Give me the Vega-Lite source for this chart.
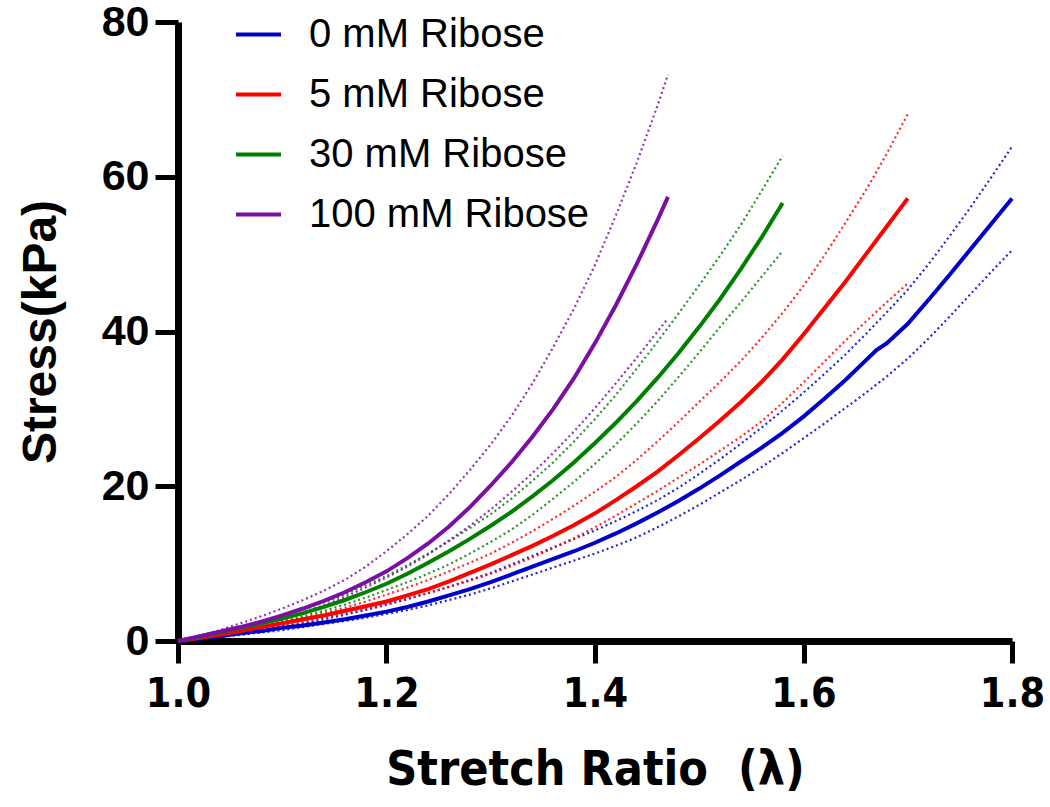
{
"$schema": "https://vega.github.io/schema/vega-lite/v6.json",
"width": 834, "height": 619,
"autosize": {"type": "none"},
"padding": {"left": 178, "top": 22, "right": 38, "bottom": 166},
"background": "white",
"config": {"view": {"stroke": null}, "axis": {"grid": false, "domainColor": "black", "tickColor": "black", "labelColor": "black", "titleColor": "black", "labelFlush": false, "labelOverlap": false}},
"datasets": {"d": [
{"g":"0","k":"m","x":1.00,"y":0},{"g":"0","k":"m","x":1.02,"y":0.3},{"g":"0","k":"m","x":1.04,"y":0.6},{"g":"0","k":"m","x":1.06,"y":1.0},{"g":"0","k":"m","x":1.08,"y":1.3},{"g":"0","k":"m","x":1.10,"y":1.7},{"g":"0","k":"m","x":1.12,"y":2.0},{"g":"0","k":"m","x":1.14,"y":2.4},{"g":"0","k":"m","x":1.16,"y":2.8},{"g":"0","k":"m","x":1.18,"y":3.3},{"g":"0","k":"m","x":1.20,"y":3.8},{"g":"0","k":"m","x":1.22,"y":4.4},{"g":"0","k":"m","x":1.24,"y":5.1},{"g":"0","k":"m","x":1.26,"y":5.9},{"g":"0","k":"m","x":1.28,"y":6.7},{"g":"0","k":"m","x":1.30,"y":7.6},{"g":"0","k":"m","x":1.32,"y":8.6},{"g":"0","k":"m","x":1.34,"y":9.6},{"g":"0","k":"m","x":1.36,"y":10.6},{"g":"0","k":"m","x":1.38,"y":11.6},{"g":"0","k":"m","x":1.40,"y":12.7},{"g":"0","k":"m","x":1.42,"y":13.9},{"g":"0","k":"m","x":1.44,"y":15.2},{"g":"0","k":"m","x":1.46,"y":16.6},{"g":"0","k":"m","x":1.48,"y":18.1},{"g":"0","k":"m","x":1.50,"y":19.7},{"g":"0","k":"m","x":1.52,"y":21.4},{"g":"0","k":"m","x":1.54,"y":23.2},{"g":"0","k":"m","x":1.56,"y":25.0},{"g":"0","k":"m","x":1.58,"y":26.9},{"g":"0","k":"m","x":1.60,"y":29.0},{"g":"0","k":"m","x":1.62,"y":31.3},{"g":"0","k":"m","x":1.64,"y":33.7},{"g":"0","k":"m","x":1.66,"y":36.3},{"g":"0","k":"m","x":1.67,"y":37.6},{"g":"0","k":"m","x":1.68,"y":38.5},{"g":"0","k":"m","x":1.70,"y":41.0},{"g":"0","k":"m","x":1.72,"y":44.1},{"g":"0","k":"m","x":1.74,"y":47.3},{"g":"0","k":"m","x":1.76,"y":50.6},{"g":"0","k":"m","x":1.78,"y":53.9},{"g":"0","k":"m","x":1.80,"y":57.2},
{"g":"0","k":"u","x":1.00,"y":0},{"g":"0","k":"u","x":1.02,"y":0.3},{"g":"0","k":"u","x":1.04,"y":0.6},{"g":"0","k":"u","x":1.06,"y":1.0},{"g":"0","k":"u","x":1.08,"y":1.4},{"g":"0","k":"u","x":1.10,"y":1.8},{"g":"0","k":"u","x":1.12,"y":2.3},{"g":"0","k":"u","x":1.14,"y":2.8},{"g":"0","k":"u","x":1.16,"y":3.4},{"g":"0","k":"u","x":1.18,"y":4.0},{"g":"0","k":"u","x":1.20,"y":4.7},{"g":"0","k":"u","x":1.22,"y":5.4},{"g":"0","k":"u","x":1.24,"y":6.2},{"g":"0","k":"u","x":1.26,"y":7.0},{"g":"0","k":"u","x":1.28,"y":7.9},{"g":"0","k":"u","x":1.30,"y":8.8},{"g":"0","k":"u","x":1.32,"y":9.9},{"g":"0","k":"u","x":1.34,"y":11.0},{"g":"0","k":"u","x":1.36,"y":12.1},{"g":"0","k":"u","x":1.38,"y":13.2},{"g":"0","k":"u","x":1.40,"y":14.3},{"g":"0","k":"u","x":1.42,"y":15.5},{"g":"0","k":"u","x":1.44,"y":16.8},{"g":"0","k":"u","x":1.46,"y":18.2},{"g":"0","k":"u","x":1.48,"y":19.8},{"g":"0","k":"u","x":1.50,"y":21.6},{"g":"0","k":"u","x":1.52,"y":23.5},{"g":"0","k":"u","x":1.54,"y":25.5},{"g":"0","k":"u","x":1.56,"y":27.6},{"g":"0","k":"u","x":1.58,"y":29.8},{"g":"0","k":"u","x":1.60,"y":32.1},{"g":"0","k":"u","x":1.62,"y":34.5},{"g":"0","k":"u","x":1.64,"y":37.0},{"g":"0","k":"u","x":1.66,"y":39.7},{"g":"0","k":"u","x":1.68,"y":42.5},{"g":"0","k":"u","x":1.70,"y":45.4},{"g":"0","k":"u","x":1.72,"y":48.7},{"g":"0","k":"u","x":1.74,"y":52.3},{"g":"0","k":"u","x":1.76,"y":56.0},{"g":"0","k":"u","x":1.78,"y":59.9},{"g":"0","k":"u","x":1.80,"y":63.9},
{"g":"0","k":"l","x":1.00,"y":0},{"g":"0","k":"l","x":1.02,"y":0.2},{"g":"0","k":"l","x":1.04,"y":0.5},{"g":"0","k":"l","x":1.06,"y":0.8},{"g":"0","k":"l","x":1.08,"y":1.1},{"g":"0","k":"l","x":1.10,"y":1.4},{"g":"0","k":"l","x":1.12,"y":1.8},{"g":"0","k":"l","x":1.14,"y":2.2},{"g":"0","k":"l","x":1.16,"y":2.6},{"g":"0","k":"l","x":1.18,"y":3.0},{"g":"0","k":"l","x":1.20,"y":3.5},{"g":"0","k":"l","x":1.22,"y":4.0},{"g":"0","k":"l","x":1.24,"y":4.6},{"g":"0","k":"l","x":1.26,"y":5.3},{"g":"0","k":"l","x":1.28,"y":6.0},{"g":"0","k":"l","x":1.30,"y":6.8},{"g":"0","k":"l","x":1.32,"y":7.7},{"g":"0","k":"l","x":1.34,"y":8.6},{"g":"0","k":"l","x":1.36,"y":9.5},{"g":"0","k":"l","x":1.38,"y":10.4},{"g":"0","k":"l","x":1.40,"y":11.3},{"g":"0","k":"l","x":1.42,"y":12.3},{"g":"0","k":"l","x":1.44,"y":13.4},{"g":"0","k":"l","x":1.46,"y":14.7},{"g":"0","k":"l","x":1.48,"y":16.1},{"g":"0","k":"l","x":1.50,"y":17.6},{"g":"0","k":"l","x":1.52,"y":19.2},{"g":"0","k":"l","x":1.54,"y":20.8},{"g":"0","k":"l","x":1.56,"y":22.5},{"g":"0","k":"l","x":1.58,"y":24.3},{"g":"0","k":"l","x":1.60,"y":26.2},{"g":"0","k":"l","x":1.62,"y":28.1},{"g":"0","k":"l","x":1.64,"y":30.1},{"g":"0","k":"l","x":1.66,"y":32.1},{"g":"0","k":"l","x":1.68,"y":34.2},{"g":"0","k":"l","x":1.70,"y":36.5},{"g":"0","k":"l","x":1.72,"y":39.1},{"g":"0","k":"l","x":1.74,"y":41.9},{"g":"0","k":"l","x":1.76,"y":44.8},{"g":"0","k":"l","x":1.78,"y":47.7},{"g":"0","k":"l","x":1.80,"y":50.5},
{"g":"5","k":"m","x":1.00,"y":0},{"g":"5","k":"m","x":1.02,"y":0.4},{"g":"5","k":"m","x":1.04,"y":0.8},{"g":"5","k":"m","x":1.06,"y":1.3},{"g":"5","k":"m","x":1.08,"y":1.8},{"g":"5","k":"m","x":1.10,"y":2.3},{"g":"5","k":"m","x":1.12,"y":2.8},{"g":"5","k":"m","x":1.14,"y":3.3},{"g":"5","k":"m","x":1.16,"y":3.9},{"g":"5","k":"m","x":1.18,"y":4.5},{"g":"5","k":"m","x":1.20,"y":5.1},{"g":"5","k":"m","x":1.22,"y":5.9},{"g":"5","k":"m","x":1.24,"y":6.7},{"g":"5","k":"m","x":1.26,"y":7.7},{"g":"5","k":"m","x":1.28,"y":8.8},{"g":"5","k":"m","x":1.30,"y":9.9},{"g":"5","k":"m","x":1.32,"y":11.1},{"g":"5","k":"m","x":1.34,"y":12.3},{"g":"5","k":"m","x":1.36,"y":13.6},{"g":"5","k":"m","x":1.38,"y":15.0},{"g":"5","k":"m","x":1.40,"y":16.5},{"g":"5","k":"m","x":1.42,"y":18.2},{"g":"5","k":"m","x":1.44,"y":20.0},{"g":"5","k":"m","x":1.46,"y":21.9},{"g":"5","k":"m","x":1.48,"y":24.0},{"g":"5","k":"m","x":1.50,"y":26.2},{"g":"5","k":"m","x":1.52,"y":28.5},{"g":"5","k":"m","x":1.54,"y":30.9},{"g":"5","k":"m","x":1.56,"y":33.5},{"g":"5","k":"m","x":1.58,"y":36.4},{"g":"5","k":"m","x":1.60,"y":39.6},{"g":"5","k":"m","x":1.62,"y":43.0},{"g":"5","k":"m","x":1.64,"y":46.4},{"g":"5","k":"m","x":1.66,"y":50.0},{"g":"5","k":"m","x":1.68,"y":53.6},{"g":"5","k":"m","x":1.70,"y":57.2},
{"g":"5","k":"u","x":1.00,"y":0},{"g":"5","k":"u","x":1.02,"y":0.4},{"g":"5","k":"u","x":1.04,"y":0.8},{"g":"5","k":"u","x":1.06,"y":1.3},{"g":"5","k":"u","x":1.08,"y":1.8},{"g":"5","k":"u","x":1.10,"y":2.4},{"g":"5","k":"u","x":1.12,"y":3.0},{"g":"5","k":"u","x":1.14,"y":3.6},{"g":"5","k":"u","x":1.16,"y":4.3},{"g":"5","k":"u","x":1.18,"y":5.1},{"g":"5","k":"u","x":1.20,"y":6.0},{"g":"5","k":"u","x":1.22,"y":6.9},{"g":"5","k":"u","x":1.24,"y":7.9},{"g":"5","k":"u","x":1.26,"y":9.0},{"g":"5","k":"u","x":1.28,"y":10.1},{"g":"5","k":"u","x":1.30,"y":11.3},{"g":"5","k":"u","x":1.32,"y":12.7},{"g":"5","k":"u","x":1.34,"y":14.2},{"g":"5","k":"u","x":1.36,"y":15.8},{"g":"5","k":"u","x":1.38,"y":17.5},{"g":"5","k":"u","x":1.40,"y":19.3},{"g":"5","k":"u","x":1.42,"y":21.2},{"g":"5","k":"u","x":1.44,"y":23.4},{"g":"5","k":"u","x":1.46,"y":25.8},{"g":"5","k":"u","x":1.48,"y":28.3},{"g":"5","k":"u","x":1.50,"y":30.9},{"g":"5","k":"u","x":1.52,"y":33.5},{"g":"5","k":"u","x":1.54,"y":36.2},{"g":"5","k":"u","x":1.56,"y":39.2},{"g":"5","k":"u","x":1.58,"y":42.4},{"g":"5","k":"u","x":1.60,"y":45.9},{"g":"5","k":"u","x":1.62,"y":49.8},{"g":"5","k":"u","x":1.64,"y":54.0},{"g":"5","k":"u","x":1.66,"y":58.3},{"g":"5","k":"u","x":1.68,"y":63.0},{"g":"5","k":"u","x":1.70,"y":68.1},
{"g":"5","k":"l","x":1.00,"y":0},{"g":"5","k":"l","x":1.02,"y":0.3},{"g":"5","k":"l","x":1.04,"y":0.7},{"g":"5","k":"l","x":1.06,"y":1.1},{"g":"5","k":"l","x":1.08,"y":1.5},{"g":"5","k":"l","x":1.10,"y":2.0},{"g":"5","k":"l","x":1.12,"y":2.5},{"g":"5","k":"l","x":1.14,"y":3.0},{"g":"5","k":"l","x":1.16,"y":3.6},{"g":"5","k":"l","x":1.18,"y":4.2},{"g":"5","k":"l","x":1.20,"y":4.8},{"g":"5","k":"l","x":1.22,"y":5.5},{"g":"5","k":"l","x":1.24,"y":6.2},{"g":"5","k":"l","x":1.26,"y":7.0},{"g":"5","k":"l","x":1.28,"y":7.8},{"g":"5","k":"l","x":1.30,"y":8.7},{"g":"5","k":"l","x":1.32,"y":9.7},{"g":"5","k":"l","x":1.34,"y":10.8},{"g":"5","k":"l","x":1.36,"y":12.0},{"g":"5","k":"l","x":1.38,"y":13.3},{"g":"5","k":"l","x":1.40,"y":14.7},{"g":"5","k":"l","x":1.42,"y":16.2},{"g":"5","k":"l","x":1.44,"y":17.8},{"g":"5","k":"l","x":1.46,"y":19.4},{"g":"5","k":"l","x":1.48,"y":21.1},{"g":"5","k":"l","x":1.50,"y":22.8},{"g":"5","k":"l","x":1.52,"y":24.6},{"g":"5","k":"l","x":1.54,"y":26.4},{"g":"5","k":"l","x":1.56,"y":28.4},{"g":"5","k":"l","x":1.58,"y":30.8},{"g":"5","k":"l","x":1.60,"y":33.4},{"g":"5","k":"l","x":1.62,"y":36.1},{"g":"5","k":"l","x":1.64,"y":38.8},{"g":"5","k":"l","x":1.66,"y":41.3},{"g":"5","k":"l","x":1.68,"y":43.8},{"g":"5","k":"l","x":1.70,"y":46.2},
{"g":"30","k":"m","x":1.00,"y":0},{"g":"30","k":"m","x":1.02,"y":0.5},{"g":"30","k":"m","x":1.04,"y":1.1},{"g":"30","k":"m","x":1.06,"y":1.7},{"g":"30","k":"m","x":1.08,"y":2.3},{"g":"30","k":"m","x":1.10,"y":2.9},{"g":"30","k":"m","x":1.12,"y":3.6},{"g":"30","k":"m","x":1.14,"y":4.4},{"g":"30","k":"m","x":1.16,"y":5.3},{"g":"30","k":"m","x":1.18,"y":6.3},{"g":"30","k":"m","x":1.20,"y":7.4},{"g":"30","k":"m","x":1.22,"y":8.7},{"g":"30","k":"m","x":1.24,"y":10.1},{"g":"30","k":"m","x":1.26,"y":11.6},{"g":"30","k":"m","x":1.28,"y":13.2},{"g":"30","k":"m","x":1.30,"y":14.9},{"g":"30","k":"m","x":1.32,"y":16.7},{"g":"30","k":"m","x":1.34,"y":18.7},{"g":"30","k":"m","x":1.36,"y":20.8},{"g":"30","k":"m","x":1.38,"y":23.1},{"g":"30","k":"m","x":1.40,"y":25.6},{"g":"30","k":"m","x":1.42,"y":28.2},{"g":"30","k":"m","x":1.44,"y":31.0},{"g":"30","k":"m","x":1.46,"y":34.0},{"g":"30","k":"m","x":1.48,"y":37.2},{"g":"30","k":"m","x":1.50,"y":40.6},{"g":"30","k":"m","x":1.52,"y":44.2},{"g":"30","k":"m","x":1.54,"y":48.1},{"g":"30","k":"m","x":1.56,"y":52.2},{"g":"30","k":"m","x":1.58,"y":56.6},
{"g":"30","k":"u","x":1.00,"y":0},{"g":"30","k":"u","x":1.02,"y":0.6},{"g":"30","k":"u","x":1.04,"y":1.2},{"g":"30","k":"u","x":1.06,"y":1.9},{"g":"30","k":"u","x":1.08,"y":2.6},{"g":"30","k":"u","x":1.10,"y":3.3},{"g":"30","k":"u","x":1.12,"y":4.1},{"g":"30","k":"u","x":1.14,"y":5.0},{"g":"30","k":"u","x":1.16,"y":6.0},{"g":"30","k":"u","x":1.18,"y":7.2},{"g":"30","k":"u","x":1.20,"y":8.4},{"g":"30","k":"u","x":1.22,"y":9.8},{"g":"30","k":"u","x":1.24,"y":11.3},{"g":"30","k":"u","x":1.26,"y":12.9},{"g":"30","k":"u","x":1.28,"y":14.6},{"g":"30","k":"u","x":1.30,"y":16.4},{"g":"30","k":"u","x":1.32,"y":18.4},{"g":"30","k":"u","x":1.34,"y":20.7},{"g":"30","k":"u","x":1.36,"y":23.1},{"g":"30","k":"u","x":1.38,"y":25.8},{"g":"30","k":"u","x":1.40,"y":28.7},{"g":"30","k":"u","x":1.42,"y":31.8},{"g":"30","k":"u","x":1.44,"y":35.2},{"g":"30","k":"u","x":1.46,"y":38.7},{"g":"30","k":"u","x":1.48,"y":42.3},{"g":"30","k":"u","x":1.50,"y":46.0},{"g":"30","k":"u","x":1.52,"y":49.8},{"g":"30","k":"u","x":1.54,"y":53.8},{"g":"30","k":"u","x":1.56,"y":58.2},{"g":"30","k":"u","x":1.58,"y":62.7},
{"g":"30","k":"l","x":1.00,"y":0},{"g":"30","k":"l","x":1.02,"y":0.4},{"g":"30","k":"l","x":1.04,"y":0.9},{"g":"30","k":"l","x":1.06,"y":1.4},{"g":"30","k":"l","x":1.08,"y":2.0},{"g":"30","k":"l","x":1.10,"y":2.6},{"g":"30","k":"l","x":1.12,"y":3.2},{"g":"30","k":"l","x":1.14,"y":3.9},{"g":"30","k":"l","x":1.16,"y":4.7},{"g":"30","k":"l","x":1.18,"y":5.6},{"g":"30","k":"l","x":1.20,"y":6.6},{"g":"30","k":"l","x":1.22,"y":7.6},{"g":"30","k":"l","x":1.24,"y":8.7},{"g":"30","k":"l","x":1.26,"y":9.9},{"g":"30","k":"l","x":1.28,"y":11.3},{"g":"30","k":"l","x":1.30,"y":12.8},{"g":"30","k":"l","x":1.32,"y":14.4},{"g":"30","k":"l","x":1.34,"y":16.3},{"g":"30","k":"l","x":1.36,"y":18.4},{"g":"30","k":"l","x":1.38,"y":20.6},{"g":"30","k":"l","x":1.40,"y":22.9},{"g":"30","k":"l","x":1.42,"y":25.4},{"g":"30","k":"l","x":1.44,"y":28.1},{"g":"30","k":"l","x":1.46,"y":31.0},{"g":"30","k":"l","x":1.48,"y":34.1},{"g":"30","k":"l","x":1.50,"y":37.3},{"g":"30","k":"l","x":1.52,"y":40.6},{"g":"30","k":"l","x":1.54,"y":43.8},{"g":"30","k":"l","x":1.56,"y":47.1},{"g":"30","k":"l","x":1.58,"y":50.4},
{"g":"100","k":"m","x":1.00,"y":0},{"g":"100","k":"m","x":1.02,"y":0.6},{"g":"100","k":"m","x":1.04,"y":1.2},{"g":"100","k":"m","x":1.06,"y":1.8},{"g":"100","k":"m","x":1.08,"y":2.5},{"g":"100","k":"m","x":1.10,"y":3.3},{"g":"100","k":"m","x":1.12,"y":4.2},{"g":"100","k":"m","x":1.14,"y":5.2},{"g":"100","k":"m","x":1.16,"y":6.3},{"g":"100","k":"m","x":1.18,"y":7.6},{"g":"100","k":"m","x":1.20,"y":9.0},{"g":"100","k":"m","x":1.22,"y":10.7},{"g":"100","k":"m","x":1.24,"y":12.6},{"g":"100","k":"m","x":1.26,"y":14.8},{"g":"100","k":"m","x":1.28,"y":17.3},{"g":"100","k":"m","x":1.30,"y":20.1},{"g":"100","k":"m","x":1.32,"y":23.1},{"g":"100","k":"m","x":1.34,"y":26.4},{"g":"100","k":"m","x":1.36,"y":30.0},{"g":"100","k":"m","x":1.38,"y":34.0},{"g":"100","k":"m","x":1.40,"y":38.5},{"g":"100","k":"m","x":1.42,"y":43.4},{"g":"100","k":"m","x":1.44,"y":48.7},{"g":"100","k":"m","x":1.46,"y":54.4},{"g":"100","k":"m","x":1.47,"y":57.4},
{"g":"100","k":"u","x":1.00,"y":0},{"g":"100","k":"u","x":1.02,"y":0.7},{"g":"100","k":"u","x":1.04,"y":1.4},{"g":"100","k":"u","x":1.06,"y":2.3},{"g":"100","k":"u","x":1.08,"y":3.2},{"g":"100","k":"u","x":1.10,"y":4.2},{"g":"100","k":"u","x":1.12,"y":5.3},{"g":"100","k":"u","x":1.14,"y":6.5},{"g":"100","k":"u","x":1.16,"y":7.9},{"g":"100","k":"u","x":1.18,"y":9.6},{"g":"100","k":"u","x":1.20,"y":11.6},{"g":"100","k":"u","x":1.22,"y":13.8},{"g":"100","k":"u","x":1.24,"y":16.2},{"g":"100","k":"u","x":1.26,"y":19.0},{"g":"100","k":"u","x":1.28,"y":22.1},{"g":"100","k":"u","x":1.30,"y":25.4},{"g":"100","k":"u","x":1.32,"y":29.1},{"g":"100","k":"u","x":1.34,"y":33.3},{"g":"100","k":"u","x":1.36,"y":38.0},{"g":"100","k":"u","x":1.38,"y":43.0},{"g":"100","k":"u","x":1.40,"y":48.6},{"g":"100","k":"u","x":1.42,"y":55.0},{"g":"100","k":"u","x":1.44,"y":61.8},{"g":"100","k":"u","x":1.46,"y":69.2},{"g":"100","k":"u","x":1.47,"y":73.2},
{"g":"100","k":"l","x":1.00,"y":0},{"g":"100","k":"l","x":1.02,"y":0.5},{"g":"100","k":"l","x":1.04,"y":1.0},{"g":"100","k":"l","x":1.06,"y":1.6},{"g":"100","k":"l","x":1.08,"y":2.2},{"g":"100","k":"l","x":1.10,"y":2.9},{"g":"100","k":"l","x":1.12,"y":3.7},{"g":"100","k":"l","x":1.14,"y":4.6},{"g":"100","k":"l","x":1.16,"y":5.7},{"g":"100","k":"l","x":1.18,"y":6.9},{"g":"100","k":"l","x":1.20,"y":8.2},{"g":"100","k":"l","x":1.22,"y":9.6},{"g":"100","k":"l","x":1.24,"y":11.2},{"g":"100","k":"l","x":1.26,"y":13.0},{"g":"100","k":"l","x":1.28,"y":14.9},{"g":"100","k":"l","x":1.30,"y":17.0},{"g":"100","k":"l","x":1.32,"y":19.3},{"g":"100","k":"l","x":1.34,"y":21.7},{"g":"100","k":"l","x":1.36,"y":24.3},{"g":"100","k":"l","x":1.38,"y":27.1},{"g":"100","k":"l","x":1.40,"y":30.1},{"g":"100","k":"l","x":1.42,"y":33.3},{"g":"100","k":"l","x":1.44,"y":36.6},{"g":"100","k":"l","x":1.46,"y":40.0},{"g":"100","k":"l","x":1.47,"y":41.7}
]},
"data": {"name": "d"},
"encoding": {
  "x": {"field": "x", "type": "quantitative", "scale": {"domain": [1, 1.8]},
    "axis": {"values": [1, 1.2, 1.4, 1.6, 1.8], "format": ".1f", "title": "Stretch Ratio\u00a0\u00a0(λ)",
      "labelFont": "DejaVu Sans Condensed, Liberation Sans, sans-serif", "labelFontWeight": "bold", "labelFontSize": 41,
      "domainWidth": 7, "tickWidth": 5, "tickSize": 22, "labelPadding": 11,
      "titleFont": "DejaVu Sans Condensed, Liberation Sans, sans-serif", "titleFontSize": 48, "titleFontWeight": "bold", "titlePadding": 32}},
  "y": {"field": "y", "type": "quantitative", "scale": {"domain": [0, 80]},
    "axis": {"values": [0, 20, 40, 60, 80], "title": "Stress(kPa)",
      "labelFont": "Liberation Sans", "labelFontWeight": "bold", "labelFontSize": 43,
      "domainWidth": 7, "tickWidth": 5, "tickSize": 23, "labelPadding": 6,
      "titleFont": "Liberation Sans", "titleFontSize": 48, "titleFontWeight": "bold", "titlePadding": 36}}
},
"layer": [
  {"transform": [{"filter": "datum.k != 'm'"}],
   "mark": {"type": "line", "strokeWidth": 2.2, "strokeDash": [2, 3], "opacity": 0.85},
   "encoding": {"detail": {"field": "k"},
     "color": {"field": "g", "type": "nominal", "legend": null,
       "scale": {"domain": ["0", "5", "30", "100"], "range": ["#0000cc", "#ff0000", "#008000", "#7b0fa3"]}}}},
  {"transform": [{"filter": "datum.k == 'm'"}],
   "mark": {"type": "line", "strokeWidth": 4},
   "encoding": {
     "color": {"field": "g", "type": "nominal",
       "scale": {"domain": ["0", "5", "30", "100"], "range": ["#0000cc", "#ff0000", "#008000", "#7b0fa3"]},
       "legend": {"orient": "none", "legendX": 56, "legendY": -12, "title": null, "symbolType": "stroke",
         "symbolSize": 2025, "symbolStrokeWidth": 4, "labelFontSize": 40, "labelFont": "Liberation Sans",
         "labelColor": "black", "labelLimit": 0, "labelExpr": "datum.label + ' mM Ribose'", "rowPadding": 15, "labelOffset": 26, "padding": 0}}}}
],
"resolve": {"scale": {"color": "shared"}, "legend": {"color": "independent"}}
}
